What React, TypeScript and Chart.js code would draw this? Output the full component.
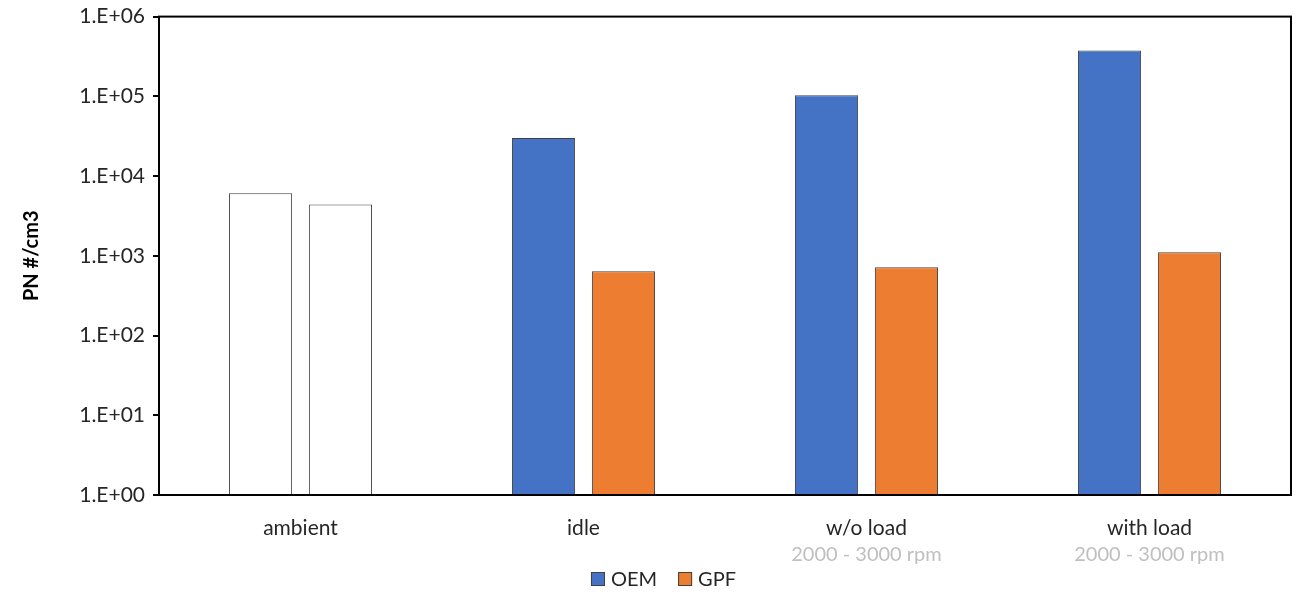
import React, { useEffect, useRef } from "react";
import { Chart, registerables } from "chart.js";

Chart.register(...registerables);

const categories = ["ambient", "idle", "w/o load", "with load"];
const subLabels = ["", "", "2000 - 3000 rpm", "2000 - 3000 rpm"];
const seriesNames = ["OEM", "GPF"];
const oemValues = [6100, 30000, 103000, 377000];
const gpfValues = [4400, 640, 720, 1110];
const yTickValues = [1, 10, 100, 1000, 10000, 100000, 1000000];

const BLUE = "#4472C4";
const ORANGE = "#ED7D31";
const seriesColors = [BLUE, ORANGE];
const FONT = "Lato, 'Open Sans', sans-serif";
const SHIFT = 4; // canvas is placed 4px above the page top

const framePlugin = {
  id: "frame",
  afterDraw(chart: any) {
    const { ctx, chartArea } = chart;
    ctx.save();
    ctx.strokeStyle = "#000";
    ctx.lineWidth = 2;
    ctx.strokeRect(chartArea.left, chartArea.top, chartArea.right - chartArea.left, chartArea.bottom - chartArea.top);
    // category sub labels
    const xs = chart.scales.x;
    ctx.fillStyle = "#BFBFBF";
    ctx.font = `20px ${FONT}`;
    ctx.textAlign = "center";
    ctx.textBaseline = "middle";
    subLabels.forEach((s, i) => {
      if (s) ctx.fillText(s, xs.getPixelForValue(i), 555 + SHIFT);
    });
    // legend
    ctx.font = `20px ${FONT}`;
    ctx.textAlign = "left";
    const box = 14;
    const gapBoxText = 6;
    const gapItems = 21;
    const widths = seriesNames.map((n) => ctx.measureText(n).width);
    const total = widths.reduce((a, w) => a + box + gapBoxText + w, 0) + gapItems * (seriesNames.length - 1);
    let x = 663.5 - total / 2;
    const cy = 579 + SHIFT;
    seriesNames.forEach((n, i) => {
      ctx.fillStyle = seriesColors[i];
      ctx.fillRect(x, cy - box / 2, box, box);
      ctx.strokeStyle = "#404040";
      ctx.lineWidth = 1;
      ctx.strokeRect(x + 0.5, cy - box / 2 + 0.5, box - 1, box - 1);
      x += box + gapBoxText;
      ctx.fillStyle = "#262626";
      ctx.fillText(n, x, cy + 1);
      x += widths[i] + gapItems;
    });
    ctx.restore();
  },
};

export default function App() {
  const ref = useRef<HTMLCanvasElement>(null);
  useEffect(() => {
    const chart = new Chart(ref.current!, {
      type: "bar",
      data: {
        labels: categories,
        datasets: [
          {
            label: seriesNames[0],
            data: oemValues,
            backgroundColor: oemValues.map((_, i) => (i === 0 ? "#FFFFFF" : BLUE)),
            borderColor: "#404040",
            borderWidth: 1,
            categoryPercentage: 0.565,
            barPercentage: 0.79,
          },
          {
            label: seriesNames[1],
            data: gpfValues,
            backgroundColor: gpfValues.map((_, i) => (i === 0 ? "#FFFFFF" : ORANGE)),
            borderColor: "#404040",
            borderWidth: 1,
            categoryPercentage: 0.565,
            barPercentage: 0.79,
          },
        ],
      },
      plugins: [framePlugin],
      options: {
        animation: false,
        responsive: true,
        maintainAspectRatio: false,
        layout: { padding: { top: 0, right: 10, left: 0, bottom: 35 } },
        plugins: {
          tooltip: { enabled: false },
          legend: { display: false },
        },
        scales: {
          x: {
            grid: { display: false },
            border: { display: false },
            ticks: { font: { family: FONT, size: 21 }, color: "#262626", padding: 13 },
            afterFit: (s: any) => {
              s.height = 62;
            },
          },
          y: {
            type: "logarithmic",
            min: 1,
            max: 1000000,
            afterBuildTicks: (s: any) => {
              s.ticks = yTickValues.map((v) => ({ value: v }));
            },
            afterFit: (s: any) => {
              s.width = 159;
            },
            grid: { drawOnChartArea: false, color: "#000", lineWidth: 2, tickLength: 6 },
            border: { display: true, color: "#000", width: 2 },
            ticks: {
              font: { family: FONT, size: 21 },
              color: "#262626",
              padding: 8,
              callback: (v: any) => {
                const e = Math.round(Math.log10(Number(v)));
                return "1.E+" + String(e).padStart(2, "0");
              },
            },
            title: {
              display: true,
              text: "PN #/cm3",
              font: { family: FONT, size: 20, weight: "bold" },
              color: "#000",
              padding: { top: 20, bottom: 14 },
            },
          },
        },
      },
    });
    return () => chart.destroy();
  }, []);
  return (
    <div style={{ position: "absolute", left: 0, top: -SHIFT, width: 1301, height: 592 + SHIFT }}>
      <canvas ref={ref} />
    </div>
  );
}
